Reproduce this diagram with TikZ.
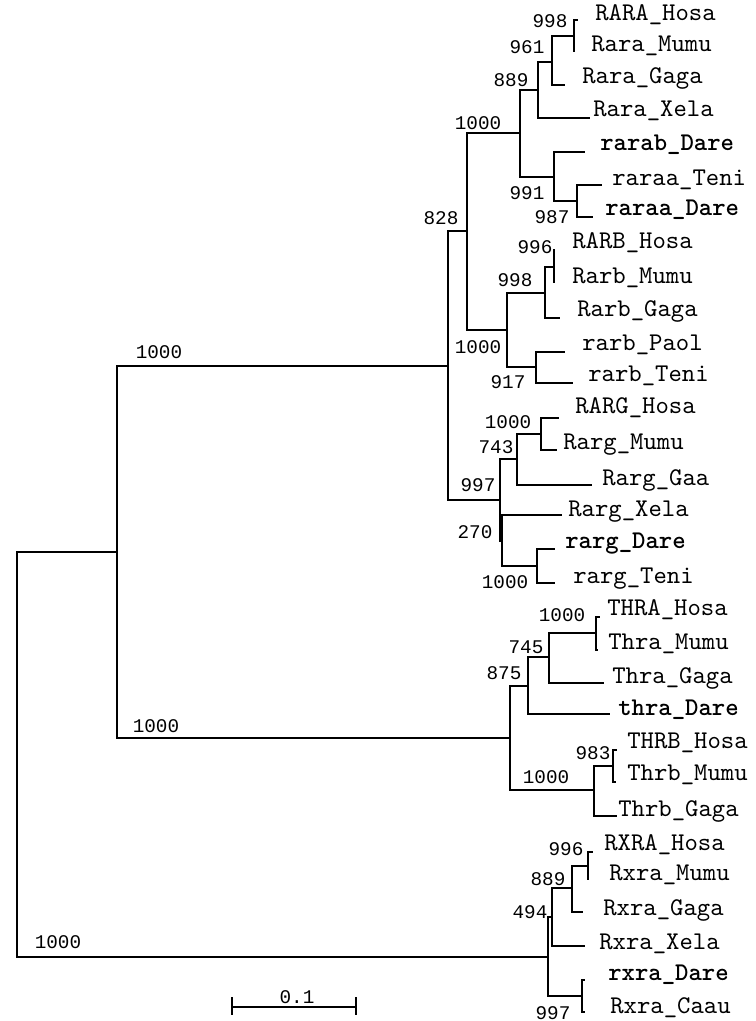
\documentclass[tikz,border=0pt]{standalone}
\usepackage{fontspec}
\newfontfamily\treefont{Liberation Mono}
\newfontfamily\taxonfont{lmmono10-regular.otf}[BoldFont=lmmonolt10-bold.otf]

\begin{document}
\begin{tikzpicture}[x=0.02cm, y=-0.02cm,
  branch/.style={line width=0.8pt},
  taxon/.style={anchor=mid west, inner sep=0pt, font=\taxonfont\fontsize{14.5}{16}\selectfont},
  dare/.style={taxon, font=\taxonfont\bfseries\fontsize{14.5}{16}\selectfont},
  boot/.style={inner sep=0pt, font=\treefont\fontsize{11}{13}\selectfont}]
\useasboundingbox (0,0) rectangle (756,1021);

% internal nodes
\coordinate (root) at (17,755);
\coordinate (thrrar) at (117,552);
\coordinate (rar) at (448,366);
\coordinate (rarab) at (467,231);
\coordinate (rara) at (520,133);
\coordinate (rara889) at (538,90);
\coordinate (rara961) at (552,62);
\coordinate (rara998) at (574,36);
\coordinate (rara991) at (554,177);
\coordinate (rara987) at (577,201);
\coordinate (rarb) at (507,330);
\coordinate (rarb998) at (545,293);
\coordinate (rarb996) at (554,267);
\coordinate (rarb917) at (536,367);
\coordinate (rarg) at (500,500);
\coordinate (rarg743) at (517,459);
\coordinate (rarg1000) at (541,434);
\coordinate (rarg270) at (502,541);
\coordinate (rargdt) at (537,566);
\coordinate (thr) at (510,738);
\coordinate (thra875) at (528,686);
\coordinate (thra745) at (549,657);
\coordinate (thra1000) at (596,633);
\coordinate (thrb) at (594,790);
\coordinate (thrb983) at (613,766);
\coordinate (rxr) at (548,957);
\coordinate (rxr494) at (552,917);
\coordinate (rxr889) at (572,888);
\coordinate (rxr996) at (588,866);
\coordinate (rxr997) at (582,996);

% branch tips
\coordinate (tRARAHosa) at (578,20);
\coordinate (tRaraMumu) at (574,52);
\coordinate (tRaraGaga) at (565,85);
\coordinate (tRaraXela) at (590,118);
\coordinate (trarabDare) at (585,152);
\coordinate (traraaTeni) at (602,185);
\coordinate (traraaDare) at (593,217);
\coordinate (tRARBHosa) at (555,250);
\coordinate (tRarbMumu) at (554,283);
\coordinate (tRarbGaga) at (560,318);
\coordinate (trarbPaol) at (565,352);
\coordinate (trarbTeni) at (573,383);
\coordinate (tRARGHosa) at (559,418);
\coordinate (tRargMumu) at (557,450);
\coordinate (tRargGaa) at (592,485);
\coordinate (tRargXela) at (562,515);
\coordinate (trargDare) at (555,549);
\coordinate (trargTeni) at (555,583);
\coordinate (tTHRAHosa) at (600,617);
\coordinate (tThraMumu) at (598,650);
\coordinate (tThraGaga) at (604,683);
\coordinate (tthraDare) at (610,714);
\coordinate (tTHRBHosa) at (617,750);
\coordinate (tThrbMumu) at (616,782);
\coordinate (tThrbGaga) at (617,816);
\coordinate (tRXRAHosa) at (593,852);
\coordinate (tRxraMumu) at (588,880);
\coordinate (tRxraGaga) at (583,912);
\coordinate (tRxraXela) at (585,946);
\coordinate (trxraDare) at (585,980);
\coordinate (tRxraCaau) at (585,1012);

% taxa
\node[taxon] (RARAHosa) at (595,17) {RARA\_Hosa};
\node[taxon] (RaraMumu) at (591,48) {Rara\_Mumu};
\node[taxon] (RaraGaga) at (582,80) {Rara\_Gaga};
\node[taxon] (RaraXela) at (593,113) {Rara\_Xela};
\node[dare] (rarabDare) at (600,147) {rarab\_Dare};
\node[taxon] (raraaTeni) at (612,182) {raraa\_Teni};
\node[dare] (raraaDare) at (605,212) {raraa\_Dare};
\node[taxon] (RARBHosa) at (572,245) {RARB\_Hosa};
\node[taxon] (RarbMumu) at (572,280) {Rarb\_Mumu};
\node[taxon] (RarbGaga) at (577,313) {Rarb\_Gaga};
\node[taxon] (rarbPaol) at (582,347) {rarb\_Paol};
\node[taxon] (rarbTeni) at (588,378) {rarb\_Teni};
\node[taxon] (RARGHosa) at (575,410) {RARG\_Hosa};
\node[taxon] (RargMumu) at (563,446) {Rarg\_Mumu};
\node[taxon] (RargGaa) at (602,482) {Rarg\_Gaa};
\node[taxon] (RargXela) at (568,513) {Rarg\_Xela};
\node[dare] (rargDare) at (565,545) {rarg\_Dare};
\node[taxon] (rargTeni) at (573,580) {rarg\_Teni};
\node[taxon] (THRAHosa) at (607,612) {THRA\_Hosa};
\node[taxon] (ThraMumu) at (608,646) {Thra\_Mumu};
\node[taxon] (ThraGaga) at (612,680) {Thra\_Gaga};
\node[dare] (thraDare) at (618,712) {thra\_Dare};
\node[taxon] (THRBHosa) at (627,745) {THRB\_Hosa};
\node[taxon] (ThrbMumu) at (627,777) {Thrb\_Mumu};
\node[taxon] (ThrbGaga) at (618,813) {Thrb\_Gaga};
\node[taxon] (RXRAHosa) at (604,847) {RXRA\_Hosa};
\node[taxon] (RxraMumu) at (609,877) {Rxra\_Mumu};
\node[taxon] (RxraGaga) at (603,912) {Rxra\_Gaga};
\node[taxon] (RxraXela) at (599,946) {Rxra\_Xela};
\node[dare] (rxraDare) at (608,977) {rxra\_Dare};
\node[taxon] (RxraCaau) at (610,1010) {Rxra\_Caau};

% branches
\draw[branch] (root) |- (thrrar) (root) |- (rxr);
\draw[branch] (thrrar) |- (rar) (thrrar) |- (thr);
\draw[branch] (rar) |- (rarab) (rar) |- (rarg);
\draw[branch] (rarab) |- (rara) (rarab) |- (rarb);
\draw[branch] (rara) |- (rara889) (rara) |- (rara991);
\draw[branch] (rara889) |- (rara961) (rara889) |- (tRaraXela);
\draw[branch] (rara961) |- (rara998) (rara961) |- (tRaraGaga);
\draw[branch] (rara998) |- (tRARAHosa) (rara998) |- (tRaraMumu);
\draw[branch] (rara991) |- (trarabDare) (rara991) |- (rara987);
\draw[branch] (rara987) |- (traraaTeni) (rara987) |- (traraaDare);
\draw[branch] (rarb) |- (rarb998) (rarb) |- (rarb917);
\draw[branch] (rarb998) |- (rarb996) (rarb998) |- (tRarbGaga);
\draw[branch] (rarb996) |- (tRARBHosa) (rarb996) |- (tRarbMumu);
\draw[branch] (rarb917) |- (trarbPaol) (rarb917) |- (trarbTeni);
\draw[branch] (rarg) |- (rarg743) (rarg) |- (rarg270);
\draw[branch] (rarg743) |- (rarg1000) (rarg743) |- (tRargGaa);
\draw[branch] (rarg1000) |- (tRARGHosa) (rarg1000) |- (tRargMumu);
\draw[branch] (rarg270) |- (tRargXela) (rarg270) |- (rargdt);
\draw[branch] (rargdt) |- (trargDare) (rargdt) |- (trargTeni);
\draw[branch] (thr) |- (thra875) (thr) |- (thrb);
\draw[branch] (thra875) |- (thra745) (thra875) |- (tthraDare);
\draw[branch] (thra745) |- (thra1000) (thra745) |- (tThraGaga);
\draw[branch] (thra1000) |- (tTHRAHosa) (thra1000) |- (tThraMumu);
\draw[branch] (thrb) |- (thrb983) (thrb) |- (tThrbGaga);
\draw[branch] (thrb983) |- (tTHRBHosa) (thrb983) |- (tThrbMumu);
\draw[branch] (rxr) |- (rxr494) (rxr) |- (rxr997);
\draw[branch] (rxr494) |- (rxr889) (rxr494) |- (tRxraXela);
\draw[branch] (rxr889) |- (rxr996) (rxr889) |- (tRxraGaga);
\draw[branch] (rxr996) |- (tRXRAHosa) (rxr996) |- (tRxraMumu);
\draw[branch] (rxr997) |- (trxraDare) (rxr997) |- (tRxraCaau);

% bootstrap values
\node[boot] (b1) at (159,352) {1000};
\node[boot] (b2) at (156,726) {1000};
\node[boot] (b3) at (58,942) {1000};
\node[boot] (b4) at (550,21) {998};
\node[boot] (b5) at (527,47) {961};
\node[boot] (b6) at (511,80) {889};
\node[boot] (b7) at (478,123) {1000};
\node[boot] (b8) at (527,193) {991};
\node[boot] (b9) at (441,218) {828};
\node[boot] (b10) at (552,217) {987};
\node[boot] (b11) at (535,247) {996};
\node[boot] (b12) at (515,280) {998};
\node[boot] (b13) at (478,347) {1000};
\node[boot] (b14) at (508,382) {917};
\node[boot] (b15) at (508,422) {1000};
\node[boot] (b16) at (496,447) {743};
\node[boot] (b17) at (478,485) {997};
\node[boot] (b18) at (475,532) {270};
\node[boot] (b19) at (505,582) {1000};
\node[boot] (b20) at (562,615) {1000};
\node[boot] (b21) at (526,647) {745};
\node[boot] (b22) at (504,673) {875};
\node[boot] (b23) at (593,753) {983};
\node[boot] (b24) at (546,777) {1000};
\node[boot] (b25) at (566,849) {996};
\node[boot] (b26) at (548,879) {889};
\node[boot] (b27) at (530,912) {494};
\node[boot] (b28) at (553,1013) {997};

% scale bar
\coordinate (sbl) at (232,1007);
\coordinate (sbr) at (356,1007);
\draw[branch] (sbl) -- (sbr);
\draw[branch] ([yshift=0.2cm]sbl) -- ([yshift=-0.16cm]sbl);
\draw[branch] ([yshift=0.2cm]sbr) -- ([yshift=-0.16cm]sbr);
\node[boot] (scale) at (297,997) {0.1};
\end{tikzpicture}
\end{document}
